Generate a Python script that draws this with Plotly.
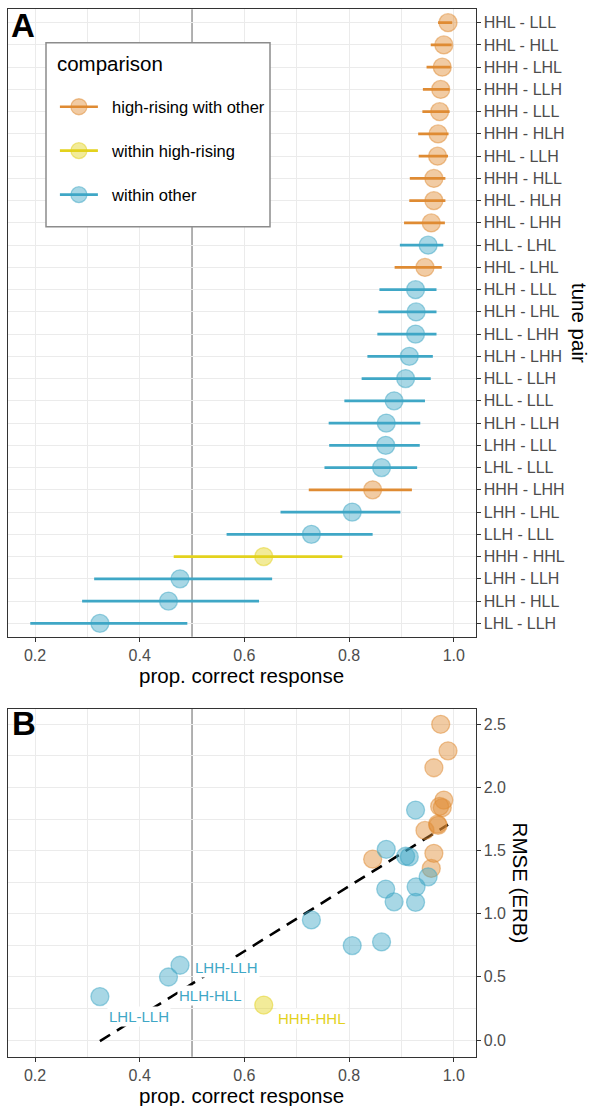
import numpy as np
import plotly.graph_objects as go

# ---------------- data ----------------
pairs = ["HHL - LLL", "HHL - HLL", "HHH - LHL", "HHH - LLH", "HHH - LLL", "HHH - HLH",
         "HHL - LLH", "HHH - HLL", "HHL - HLH", "HHL - LHH", "HLL - LHL", "HHL - LHL",
         "HLH - LLL", "HLH - LHL", "HLL - LHH", "HLH - LHH", "HLL - LLH", "HLL - LLL",
         "HLH - LLH", "LHH - LLL", "LHL - LLL", "HHH - LHH", "LHH - LHL", "LLH - LLL",
         "HHH - HHL", "LHH - LLH", "HLH - HLL", "LHL - LLH"]
HR, WH, WO = "high-rising with other", "within high-rising", "within other"
group = [HR, HR, HR, HR, HR, HR, HR, HR, HR, HR, WO, HR,
         WO, WO, WO, WO, WO, WO, WO, WO, WO, HR, WO, WO,
         WH, WO, WO, WO]
prop = [0.989, 0.981, 0.978, 0.975, 0.973, 0.970, 0.969, 0.962, 0.962, 0.957, 0.951, 0.945,
        0.927, 0.928, 0.927, 0.915, 0.908, 0.886, 0.871, 0.870, 0.862, 0.845, 0.806, 0.728,
        0.637, 0.477, 0.455, 0.324]
ci_lo = [0.970, 0.956, 0.948, 0.941, 0.940, 0.932, 0.933, 0.916, 0.915, 0.905, 0.897, 0.887,
         0.858, 0.856, 0.854, 0.835, 0.824, 0.791, 0.761, 0.762, 0.753, 0.723, 0.669, 0.566,
         0.465, 0.313, 0.290, 0.191]
ci_hi = [0.997, 0.996, 0.994, 0.992, 0.992, 0.990, 0.989, 0.984, 0.984, 0.983, 0.980, 0.977,
         0.967, 0.967, 0.967, 0.960, 0.956, 0.945, 0.936, 0.935, 0.930, 0.920, 0.898, 0.845,
         0.787, 0.653, 0.628, 0.491]
rmse = [2.29, 1.90, 1.84, 2.50, 1.85, 1.70, 1.71, 2.156, 1.478, 1.359, 1.292, 1.66,
        1.821, 1.213, 1.09, 1.45, 1.455, 1.094, 1.51, 1.195, 0.777, 1.432, 0.748, 0.951,
        0.277, 0.592, 0.499, 0.344]
group_order = [HR, WH, WO]
group_colors = {HR: "#DF8B33", WH: "#E3D21D", WO: "#3FA7C6"}
labelled_pairs = ["LHH - LLH", "HLH - HLL", "LHL - LLH", "HHH - HHL"]
x_ticks = [0.2, 0.4, 0.6, 0.8, 1.0]
x_minor = [0.3, 0.7, 0.9]          # 0.5 is covered by the reference line
y2_ticks = [0.0, 0.5, 1.0, 1.5, 2.0, 2.5]
y2_minor = [0.25, 0.75, 1.25, 1.75, 2.25]
chance = 0.5

# ---------------- layout helpers ----------------
W, H = 590, 1106
FONT = "Liberation Sans, Arial, sans-serif"
def px(x):
    return x / W
def py(y):
    return 1 - y / H

def rgba(hexc, a):
    h = hexc.lstrip("#")
    r, g, b = int(h[0:2], 16), int(h[2:4], 16), int(h[4:6], 16)
    return f"rgba({r},{g},{b},{a})"

def marker_style(c):
    return dict(size=18, color=rgba(c, 0.45), line=dict(color=rgba(c, 0.5), width=1.3))

fig = go.Figure()

# ---------------- panel A ----------------
for g in group_order:
    idx = [i for i, gg in enumerate(group) if gg == g]
    c = group_colors[g]
    fig.add_trace(go.Scatter(
        x=[prop[i] for i in idx], y=[pairs[i] for i in idx], mode="markers",
        marker=marker_style(c),
        error_x=dict(type="data", symmetric=False,
                     array=[ci_hi[i] - prop[i] for i in idx],
                     arrayminus=[prop[i] - ci_lo[i] for i in idx],
                     color=c, thickness=2.7, width=0),
        showlegend=False, legendgroup=g, xaxis="x", yaxis="y"))

# legend entries (leading no-break spaces widen the gap between key and label)
for g in group_order:
    c = group_colors[g]
    fig.add_trace(go.Scatter(
        x=[None], y=[None], mode="lines+markers", name="\u00a0\u00a0" + g, legendgroup=g,
        line=dict(color=c, width=2.7), marker=marker_style(c),
        xaxis="x", yaxis="y"))

# ---------------- panel B ----------------
slope, icpt = np.polyfit(prop, rmse, 1)
xfit = np.array([min(prop), max(prop)])
fig.add_trace(go.Scatter(
    x=xfit, y=slope * xfit + icpt, mode="lines",
    line=dict(color="black", width=2.6, dash="12px,8px"),
    showlegend=False, xaxis="x2", yaxis="y2", hoverinfo="skip"))
for g in group_order:
    idx = [i for i, gg in enumerate(group) if gg == g]
    c = group_colors[g]
    fig.add_trace(go.Scatter(
        x=[prop[i] for i in idx], y=[rmse[i] for i in idx], mode="markers",
        text=[pairs[i] for i in idx], marker=marker_style(c),
        showlegend=False, legendgroup=g, xaxis="x2", yaxis="y2"))

# ---------------- axes ----------------
xdom = [px(8.3), px(475.5)]
yA = [py(636.7), py(9.3)]
yB = [py(1056.7), py(708.5)]
grid_major = "#EBEBEB"
axis_common = dict(showline=True, mirror=True, linecolor="#333333", linewidth=1.1,
                   ticks="outside", ticklen=4, tickcolor="#333333", tickwidth=1.1,
                   tickfont=dict(family=FONT, size=16, color="#4D4D4D"),
                   zeroline=False, showgrid=True, gridcolor=grid_major, gridwidth=1.1)
xminor = dict(tickvals=x_minor, showgrid=True, gridcolor=grid_major, gridwidth=0.55, ticks="")

fig.update_layout(
    xaxis=dict(domain=xdom, anchor="y", range=[0.149, 1.0415], tickvals=x_ticks,
               tickformat=".1f", minor=xminor, **axis_common),
    yaxis=dict(domain=yA, anchor="x", side="right", type="category",
               categoryorder="array", categoryarray=list(reversed(pairs)),
               range=[-0.6, len(pairs) - 0.4], **axis_common),
    xaxis2=dict(domain=xdom, anchor="y2", range=[0.149, 1.0415], tickvals=x_ticks,
                tickformat=".1f", minor=xminor, **axis_common),
    yaxis2=dict(domain=yB, anchor="x2", side="right",
                range=[-0.132, 2.625], tickvals=y2_ticks, tickformat=".1f",
                minor=dict(tickvals=y2_minor, showgrid=True, gridcolor=grid_major,
                           gridwidth=0.55, ticks=""),
                **axis_common),
)

# vertical reference line at chance level
for xr, dom in [("x", yA), ("x2", yB)]:
    fig.add_shape(type="line", xref=xr, yref="paper", x0=chance, x1=chance,
                  y0=dom[0], y1=dom[1],
                  line=dict(color="#A9A9A9", width=1.8), layer="below")

# legend box (frame drawn as a shape, legend itself is transparent on top)
fig.add_shape(type="rect", xref="paper", yref="paper",
              x0=px(46), x1=px(270), y0=py(226.7), y1=py(42.7),
              fillcolor="white", line=dict(color="#8C8C8C", width=1.5), layer="above")

# ---------------- annotations ----------------
ann = []
ann.append(dict(text="<b>A</b>", x=px(22.5), y=py(25.3), xref="paper", yref="paper",
                xanchor="center", yanchor="middle", showarrow=False,
                font=dict(family=FONT, size=33, color="black")))
ann.append(dict(text="<b>B</b>", x=px(23.9), y=py(723.3), xref="paper", yref="paper",
                xanchor="center", yanchor="middle", showarrow=False,
                font=dict(family=FONT, size=33, color="black")))
for yc in (675, 1095):
    ann.append(dict(text="prop. correct response", x=px(241.9), y=py(yc), xref="paper", yref="paper",
                    xanchor="center", yanchor="middle", showarrow=False,
                    font=dict(family=FONT, size=20.5, color="black")))
ann.append(dict(text="tune pair", x=px(580), y=py(323), xref="paper", yref="paper",
                xanchor="center", yanchor="middle", showarrow=False, textangle=90,
                font=dict(family=FONT, size=20.5, color="black")))
ann.append(dict(text="RMSE (ERB)", x=px(520), y=py(882.6), xref="paper", yref="paper",
                xanchor="center", yanchor="middle", showarrow=False, textangle=90,
                font=dict(family=FONT, size=20.5, color="black")))

label_offsets = {"LHH - LLH": (46, -2), "HLH - HLL": (42, -18),
                 "LHL - LLH": (39, -20), "HHH - HHL": (48, -13)}
for p in labelled_pairs:
    i = pairs.index(p)
    dx, dy = label_offsets[p]
    ann.append(dict(text=p.replace(" ", ""), x=prop[i], y=rmse[i], xref="x2", yref="y2",
                    xshift=dx, yshift=dy, showarrow=False, bgcolor="white", borderpad=1,
                    xanchor="center", yanchor="middle",
                    font=dict(family=FONT, size=15, color=group_colors[group[i]])))

fig.update_layout(
    annotations=ann,
    width=W, height=H, margin=dict(l=0, r=0, t=0, b=0),
    paper_bgcolor="white", plot_bgcolor="white",
    font=dict(family=FONT, color="black"),
    legend=dict(x=px(54.9), y=py(51.8), xanchor="left", yanchor="top",
                bgcolor="rgba(0,0,0,0)", borderwidth=0,
                font=dict(family=FONT, size=16.5, color="black"),
                title=dict(text="<span style='font-size:20.5px'>comparison</span><br> ",
                           font=dict(family=FONT, size=14.5, color="black")),
                tracegroupgap=19.5, itemwidth=38, traceorder="grouped"),
)

fig.write_html("out.html", config={"displayModeBar": False},
               post_script="document.body.style.margin='0px';")
